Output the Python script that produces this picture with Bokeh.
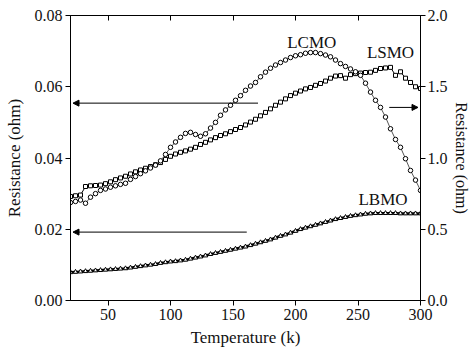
from bokeh.plotting import figure
from bokeh.models import (Range1d, LinearAxis, FixedTicker, Arrow, NormalHead,
                          Label, PrintfTickFormatter)
from bokeh.embed import file_html
from bokeh.resources import INLINE

FONT = "Liberation Serif"

temperature = [20, 24, 28, 32, 36, 40, 44, 48, 52, 56, 60, 64, 68, 72, 76, 80, 84, 88, 92, 96,
               100, 104, 108, 112, 116, 120, 124, 128, 132, 136, 140, 144, 148, 152, 156, 160,
               164, 168, 172, 176, 180, 184, 188, 192, 196, 200, 204, 208, 212, 216, 220, 224,
               228, 232, 236, 240, 244, 248, 252, 256, 260, 264, 268, 272, 276, 280, 284, 288,
               292, 296, 300]

# LCMO, left axis (ohm)
lcmo = [0.0275, 0.0278, 0.0282, 0.0273, 0.0290, 0.0300, 0.0309, 0.0313, 0.0318, 0.0322,
        0.0326, 0.0329, 0.0340, 0.0348, 0.0356, 0.0364, 0.0372, 0.0380, 0.0392, 0.0410,
        0.0430, 0.0445, 0.0458, 0.0469, 0.0472, 0.0466, 0.0461, 0.0468, 0.0484, 0.0500,
        0.0520, 0.0535, 0.0548, 0.0562, 0.0575, 0.0590, 0.0602, 0.0612, 0.0628, 0.0641,
        0.0652, 0.0661, 0.0668, 0.0675, 0.0682, 0.0687, 0.0690, 0.0694, 0.0696, 0.0696,
        0.0693, 0.0689, 0.0684, 0.0675, 0.0665, 0.0657, 0.0650, 0.0642, 0.0632, 0.0610,
        0.0585, 0.0562, 0.0542, 0.0515, 0.0482, 0.0452, 0.0430, 0.0398, 0.0365, 0.0338,
        0.0309]

# LSMO, right axis (ohm)
lsmo = [0.730, 0.735, 0.740, 0.800, 0.805, 0.807, 0.810, 0.820, 0.833, 0.848,
        0.860, 0.872, 0.888, 0.903, 0.916, 0.928, 0.940, 0.953, 0.968, 0.990,
        1.012, 1.028, 1.040, 1.050, 1.062, 1.075, 1.095, 1.110, 1.127, 1.143,
        1.158, 1.170, 1.185, 1.200, 1.214, 1.232, 1.252, 1.272, 1.296, 1.320,
        1.345, 1.370, 1.392, 1.415, 1.438, 1.455, 1.470, 1.485, 1.495, 1.510,
        1.523, 1.540, 1.560, 1.575, 1.578, 1.560, 1.585, 1.592, 1.596, 1.600,
        1.602, 1.615, 1.628, 1.632, 1.636, 1.580, 1.605, 1.560, 1.530, 1.500,
        1.488]

# LBMO, left axis (ohm)
lbmo = [0.0079, 0.0080, 0.0081, 0.0082, 0.0083, 0.0084, 0.0085, 0.0086, 0.0087, 0.0088,
        0.0089, 0.0090, 0.0092, 0.0094, 0.0096, 0.0098, 0.0100, 0.0102, 0.0105, 0.0107,
        0.0109, 0.0110, 0.0112, 0.0114, 0.0117, 0.0120, 0.0123, 0.0126, 0.0130, 0.0133,
        0.0136, 0.0139, 0.0142, 0.0145, 0.0148, 0.0151, 0.0155, 0.0159, 0.0163, 0.0167,
        0.0171, 0.0176, 0.0181, 0.0185, 0.0190, 0.0195, 0.0200, 0.0204, 0.0208, 0.0212,
        0.0216, 0.0220, 0.0224, 0.0228, 0.0231, 0.0234, 0.0237, 0.0239, 0.0241, 0.0243,
        0.0244, 0.0245, 0.0245, 0.0245, 0.0245, 0.0245, 0.0244, 0.0244, 0.0244, 0.0244,
        0.0244]

x_ticks = [50, 100, 150, 200, 250, 300]
left_ticks = [0.00, 0.02, 0.04, 0.06, 0.08]
right_ticks = [0.0, 0.5, 1.0, 1.5, 2.0]

# series labels (name, T, R on left scale)
labels = [("LCMO", 213, 0.0724), ("LSMO", 276, 0.0696), ("LBMO", 270, 0.0284)]
# arrows (x_start, x_end, y on left scale)
arrows = [(170, 22, 0.0554), (161, 22, 0.0192), (275, 298, 0.0542)]

p = figure(width=470, height=353, output_backend="svg", toolbar_location=None,
           x_range=Range1d(20, 300), y_range=Range1d(0, 0.08),
           frame_width=350, frame_height=285,
           min_border_left=70, min_border_right=50, min_border_top=15, min_border_bottom=53,
           x_axis_label="Temperature (k)", y_axis_label="Resistance (ohm)")
p.extra_y_ranges = {"right": Range1d(0, 2.0)}
p.xgrid.visible = False
p.ygrid.visible = False
p.outline_line_color = "black"
p.outline_line_width = 1
p.background_fill_color = "white"
p.border_fill_color = "white"

right_axis = LinearAxis(y_range_name="right", axis_label="Resistance (ohm)")
p.add_layout(right_axis, "right")
top_axis = LinearAxis()
p.add_layout(top_axis, "above")

for ax in p.xaxis:
    ax.ticker = FixedTicker(ticks=x_ticks)
p.yaxis[0].ticker = FixedTicker(ticks=left_ticks)
p.yaxis[0].formatter = PrintfTickFormatter(format="%.2f")
right_axis.ticker = FixedTicker(ticks=right_ticks)
right_axis.formatter = PrintfTickFormatter(format="%.1f")

for ax in list(p.xaxis) + list(p.yaxis):
    ax.minor_tick_line_color = None
    ax.major_tick_out = 5
    ax.major_tick_in = 0
    ax.axis_line_color = "black"
    ax.major_tick_line_color = "black"
    ax.major_label_text_font = FONT
    ax.major_label_text_font_size = "16px"
    ax.major_label_text_color = "#111111"
    ax.axis_label_text_font = FONT
    ax.axis_label_text_font_size = "17px"
    ax.axis_label_text_font_style = "normal"
    ax.axis_label_text_color = "#111111"
    ax.major_label_standoff = 3

top_axis.major_tick_out = 0
top_axis.major_tick_in = 5
top_axis.major_label_text_font_size = "0px"
top_axis.major_label_text_color = None

p.yaxis[0].axis_label_standoff = 8
right_axis.axis_label_text_font_size = "16px"
right_axis.axis_label_standoff = 2
right_axis.major_label_standoff = 2
p.xaxis[0].axis_label_standoff = 6

p.line(temperature, lbmo, line_color="black", line_width=2.5)
p.scatter(temperature, lbmo, marker="triangle", size=4.5, line_color="black",
          fill_color="white", line_width=1)
p.line(temperature, lsmo, line_color="black", line_width=1, y_range_name="right")
p.scatter(temperature, lsmo, marker="square", size=4, line_color="black",
          fill_color="white", line_width=1, y_range_name="right")
p.line(temperature, lcmo, line_color="#555555", line_width=1)
p.scatter(temperature, lcmo, marker="circle", size=4.5, line_color="black",
          fill_color="white", line_width=1)

for name, tx, ty in labels:
    p.add_layout(Label(x=tx, y=ty, text=name, text_font=FONT, text_font_size="17px",
                       text_align="center", text_baseline="middle", text_color="#111111"))

for xs, xe, yy in arrows:
    p.add_layout(Arrow(x_start=xs, y_start=yy, x_end=xe, y_end=yy, line_width=1,
                       line_color="black",
                       end=NormalHead(size=6, fill_color="black", line_color="black")))

open("out.html", "w").write(file_html(p, INLINE))
